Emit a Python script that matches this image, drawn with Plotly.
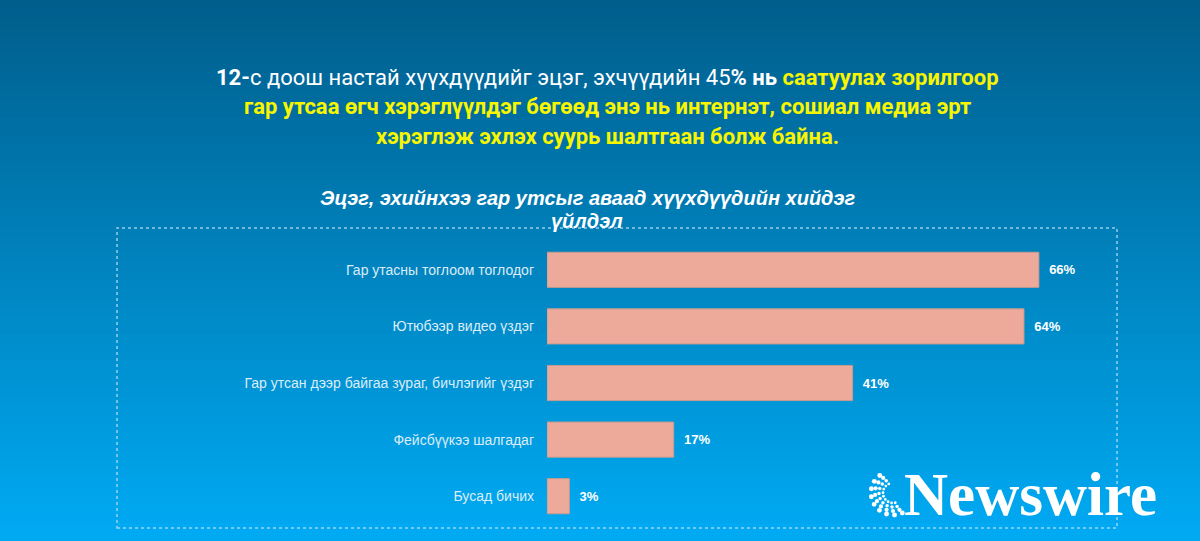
import math
import plotly.graph_objects as go

categories = [
    'Гар утасны тоглоом тоглодог',
    'Ютюбээр видео үздэг',
    'Гар утсан дээр байгаа зураг, бичлэгийг үздэг',
    'Фейсбүүкээ шалгадаг',
    'Бусад бичих',
]
values = [66, 64, 41, 17, 3]

W, H = 1200, 541


def px(x):
    return x / W


def py(y):
    return 1 - y / H


fig = go.Figure()

fig.add_trace(go.Bar(
    x=values,
    y=categories,
    orientation='h',
    marker=dict(color='#edaa9a', line=dict(color='#c99a8e', width=1)),
    texttemplate='\u00a0\u00a0<b>%{x}%</b>',
    textposition='outside',
    textfont=dict(color='white', size=13, family='Liberation Sans, Arial, sans-serif'),
    cliponaxis=False,
    hoverinfo='skip',
))

# background gradient, dark blue top -> light blue bottom
shapes = []
top = (0, 94, 140)
bot = (0, 170, 243)
n = 60
for i in range(n):
    t = i / (n - 1)
    c = tuple(round(top[k] + (bot[k] - top[k]) * t) for k in range(3))
    shapes.append(dict(
        type='rect', xref='paper', yref='paper', layer='below',
        x0=0, x1=1, y0=1 - (i + 1) / n - 0.002, y1=1 - i / n,
        fillcolor='rgb(%d,%d,%d)' % c, line=dict(width=0),
    ))

# dotted frame around the chart
shapes.append(dict(
    type='rect', xref='paper', yref='paper', layer='below',
    x0=px(117), x1=px(1117), y0=py(528), y1=py(228),
    line=dict(color='rgba(200,230,250,0.75)', width=1.5, dash='dot'),
))

# little dotted globe crescent of the logo
cx, cy, r0 = 893, 493, 10
for row in range(4):
    r = r0 + row * 4
    for j in range(9):
        a = math.radians(115 + j * 21 + row * 4)
        if a > math.radians(300):
            continue
        x = cx + r * math.cos(a)
        y = cy - r * math.sin(a)
        s = 1.4 + row * 0.35
        shapes.append(dict(
            type='circle', xref='paper', yref='paper',
            x0=px(x - s), x1=px(x + s), y0=py(y + s), y1=py(y - s),
            fillcolor='white', line=dict(width=0),
        ))

head_font = dict(family='Roboto, Liberation Sans, Arial, sans-serif', size=22, color='white')
yellow = '#f7f500'

line1 = ("<b>12-</b>с доош настай хүүхдүүдийг эцэг, эхчүүдийн 45<b>% нь</b> "
         "<span style='color:" + yellow + "'><b>саатуулах зорилгоор</b></span>")

annotations = [
    dict(text=line1, x=px(607), y=py(77)),
    dict(text="<b>гар утсаа өгч хэрэглүүлдэг бөгөөд энэ нь интернэт, сошиал медиа эрт</b>",
         x=px(607), y=py(106), font=dict(color=yellow)),
    dict(text="<b>хэрэглэж эхлэх суурь шалтгаан болж байна.</b>",
         x=px(607), y=py(136), font=dict(color=yellow)),
]
for a in annotations:
    f = dict(head_font)
    f.update(a.pop('font', {}))
    a.update(xref='paper', yref='paper', showarrow=False, xanchor='center', yanchor='middle', font=f)

title_font = dict(family='Liberation Sans, Arial, sans-serif', size=20, color='white')
annotations += [
    dict(text='<b><i>Эцэг, эхийнхээ гар утсыг аваад хүүхдүүдийн хийдэг</i></b>',
         x=px(587), y=py(198), xref='paper', yref='paper', showarrow=False,
         xanchor='center', yanchor='middle', font=title_font),
    dict(text='<b><i>үйлдэл</i></b>',
         x=px(587), y=py(221), xref='paper', yref='paper', showarrow=False,
         xanchor='center', yanchor='middle', font=title_font),
    dict(text='<b>Newswire</b>',
         x=px(902), y=py(494), xref='paper', yref='paper', showarrow=False,
         xanchor='left', yanchor='middle',
         font=dict(family='Liberation Serif, Times New Roman, serif', size=61, color='white')),
]

fig.update_layout(
    width=W,
    height=H,
    margin=dict(l=0, r=0, t=0, b=0),
    paper_bgcolor='#0088c8',
    plot_bgcolor='rgba(0,0,0,0)',
    showlegend=False,
    bargap=0.38,
    shapes=shapes,
    annotations=annotations,
    xaxis=dict(domain=[px(547), px(1100)], range=[0, 74.2], visible=False, fixedrange=True),
    yaxis=dict(
        domain=[py(524.5), py(241.5)],
        autorange='reversed',
        showgrid=False, zeroline=False, showline=False,
        ticks='', ticklabelstandoff=12,
        tickfont=dict(family='Liberation Sans, Arial, sans-serif', size=14, color='#dcecf8'),
        fixedrange=True,
    ),
)

fig.write_html('out.html', config={'displayModeBar': False},
               post_script="document.body.style.margin='0';document.body.style.overflow='hidden';")
